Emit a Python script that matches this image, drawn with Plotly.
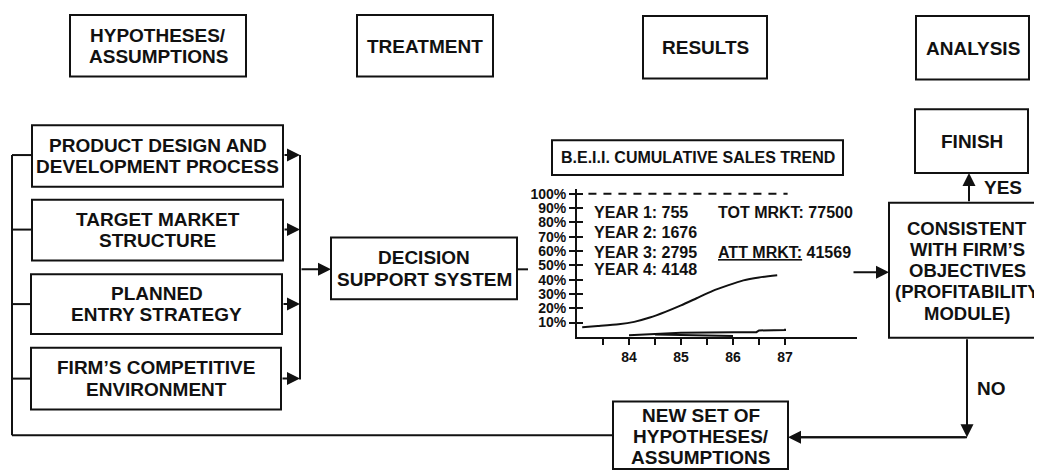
import plotly.graph_objects as go

# The page body has an 8px margin: the figure is sized so it fills the
# 1042x472 window exactly, and its axes are expressed in window pixels.
PAGE_W, PAGE_H = 1042, 472
OFF = 8
W, H = PAGE_W - OFF, PAGE_H - OFF
INK = "#111111"
FONT = "Liberation Sans, Arial, sans-serif"

# ---------------- data for the embedded sales-trend chart ----------------
curve_years = [83.1, 83.4, 83.8, 84.1, 84.4, 84.7, 85.0, 85.3, 85.6, 85.9, 86.2, 86.5, 86.85]
curve_share = [6.8, 7.6, 8.8, 10.5, 13.5, 17.5, 22.0, 27.0, 32.0, 36.0, 39.5, 41.5, 43.0]

sales_years = [84.0, 84.5, 85.0, 86.0, 86.45, 86.5, 87.0, 87.0]
sales_share = [1.2, 1.8, 2.8, 3.2, 3.3, 4.5, 4.8, 5.6]

sales2_years = [84.5, 85.0, 85.5, 86.0]
sales2_share = [1.6, 1.2, 0.9, 0.7]

target_years = [83.22, 87.05]
target_share = [100, 100]

y_tick_vals = [10, 20, 30, 40, 50, 60, 70, 80, 90, 100]
y_tick_text = ["10%", "20%", "30%", "40%", "50%", "60%", "70%", "80%", "90%", "100%"]
x_tick_vals = [83.5, 84, 84.5, 85, 85.5, 86, 86.5, 87]
x_tick_text = ["", "84", "", "85", "", "86", "", "87"]

year_labels = ["YEAR 1: 755", "YEAR 2: 1676", "YEAR 3: 2795", "YEAR 4: 4148"]
year_label_levels = [86.8, 72.9, 59.0, 47.2]
market_labels = ["TOT MRKT: 77500", "<u>ATT MRKT:</u> 41569"]
market_label_levels = [86.8, 59.0]

chart_title = "B.E.I.I. CUMULATIVE SALES TREND"

header_texts = [["HYPOTHESES/", "ASSUMPTIONS"], ["TREATMENT"], ["RESULTS"], ["ANALYSIS"]]
input_texts = [["PRODUCT DESIGN AND", "DEVELOPMENT PROCESS"],
               ["TARGET MARKET", "STRUCTURE"],
               ["PLANNED", "ENTRY STRATEGY"],
               ["FIRM\u2019S COMPETITIVE", "ENVIRONMENT"]]
dss_text = ["DECISION", "SUPPORT SYSTEM"]
finish_text = ["FINISH"]
check_text = ["CONSISTENT", "WITH FIRM\u2019S", "OBJECTIVES", "(PROFITABILITY", "MODULE)"]
newset_text = ["NEW SET OF", "HYPOTHESES/", "ASSUMPTIONS"]

# ---------------- drawing helpers (window pixel coordinates) ----------------
shapes = []
annotations = []


def line(x0, y0, x1, y1, w=2):
    shapes.append(dict(type="line", xref="x", yref="y", x0=x0, y0=y0, x1=x1, y1=y1,
                       line=dict(color=INK, width=w)))


def rect(x0, y0, x1, y1):
    shapes.append(dict(type="rect", xref="x", yref="y", x0=x0, y0=y0, x1=x1, y1=y1,
                       line=dict(color=INK, width=2), fillcolor="rgba(0,0,0,0)"))


def arrow(tx, ty, hx, hy):
    annotations.append(dict(x=hx, y=hy, ax=tx, ay=ty, xref="x", yref="y", axref="x", ayref="y",
                            text="", showarrow=True, arrowhead=2, arrowsize=1.3,
                            arrowwidth=2, arrowcolor=INK, standoff=0, startstandoff=0))


def label(x, y, text, size=19, xanchor="center", xref="x", yref="y"):
    annotations.append(dict(x=x, y=y, xref=xref, yref=yref, text=text, showarrow=False,
                            xanchor=xanchor, yanchor="middle",
                            font=dict(family=FONT, size=size, color=INK, weight="bold")))


def box(x0, y0, x1, y1, lines, spacing=21.5, size=19, cy=None, cx=None):
    rect(x0, y0, x1, y1)
    if cx is None:
        cx = (x0 + x1) / 2
    if cy is None:
        cy = (y0 + y1) / 2
    n = len(lines)
    for i, t in enumerate(lines):
        label(cx, cy + (i - (n - 1) / 2) * spacing, t, size=size)


# ---------------- header boxes ----------------
box(70, 12, 246, 74, header_texts[0], spacing=21.5, cy=43.5)
box(357, 12, 493, 74, header_texts[1], cy=43.5)
box(643, 13, 767, 76, header_texts[2], cy=45)
box(916, 13, 1029, 77, header_texts[3], cy=46)

# ---------------- input boxes ----------------
input_rects = [(32, 123, 283, 185), (32, 198, 283, 259), (31, 273, 282, 333), (31, 347, 281, 409)]
input_ys = [153, 228, 303, 378]
for (x0, y0, x1, y1), t in zip(input_rects, input_texts):
    box(x0, y0, x1, y1, t)

# left feedback bus
line(12, 153, 12, 435)
for (x0, y0, x1, y1), yy in zip(input_rects, input_ys):
    line(12, yy, x0, yy)
line(12, 435, 613, 435)

# right collector bus
line(300, 153, 300, 379)
for (x0, y0, x1, y1), yy in zip(input_rects, input_ys):
    arrow(x1, yy, 300, yy)
arrow(300, 268, 331, 268)

# decision support system
box(331, 236, 517, 298, dss_text)
line(517, 268, 528, 268)

# chart title box
box(552, 138, 843, 173, [chart_title], size=16)

# right side: consistency check, finish, new set
arrow(852, 271, 889, 271)
box(889, 201, 1052, 337, check_text, spacing=21.3, size=18.5, cy=269.5, cx=967)
box(915, 107, 1028, 171, finish_text)
arrow(969, 201, 969, 171)
label(982, 186, "YES", xanchor="left")
arrow(967, 337, 967, 437)
label(975, 388, "NO", xanchor="left")
line(967, 437, 795, 437)
arrow(967, 437, 788, 437)
box(613, 401, 788, 469, newset_text, spacing=21, cy=436)

# ---------------- embedded chart labels ----------------
for t, lv in zip(year_labels, year_label_levels):
    label(83.29, lv, t, size=16, xanchor="left", xref="x2", yref="y2")
for t, lv in zip(market_labels, market_label_levels):
    label(85.67, lv, t, size=16, xanchor="left", xref="x2", yref="y2")

# ---------------- figure ----------------
fig = go.Figure()
fig.add_trace(go.Scatter(x=[], y=[], xaxis="x", yaxis="y", hoverinfo="skip", showlegend=False))
fig.add_trace(go.Scatter(x=curve_years, y=curve_share, mode="lines", xaxis="x2", yaxis="y2",
                         line=dict(color=INK, width=2, shape="spline", smoothing=0.6),
                         showlegend=False, hoverinfo="skip"))
fig.add_trace(go.Scatter(x=sales_years, y=sales_share, mode="lines", xaxis="x2", yaxis="y2",
                         line=dict(color=INK, width=2), showlegend=False, hoverinfo="skip"))
fig.add_trace(go.Scatter(x=sales2_years, y=sales2_share, mode="lines", xaxis="x2", yaxis="y2",
                         line=dict(color=INK, width=2), showlegend=False, hoverinfo="skip"))
fig.add_trace(go.Scatter(x=target_years, y=target_share, mode="lines", xaxis="x2", yaxis="y3",
                         line=dict(color=INK, width=2, dash="8px,7px"),
                         showlegend=False, hoverinfo="skip"))

x0_px, x1_px = 577, 857
ybot_px, ytop_px = 336, 187
px_per_year = 52.0
px_per_pct = 1.44
xr = [83, 83 + (x1_px - x0_px) / px_per_year]
yr = [0, (ybot_px - ytop_px) / px_per_pct]
tickfont = dict(family=FONT, size=14, color=INK, weight="bold")


def fx(p):
    return (p - OFF) / W


def fy(p):
    return 1 - (p - OFF) / H


fig.update_layout(
    width=W, height=H, margin=dict(l=0, r=0, t=0, b=0),
    paper_bgcolor="white", plot_bgcolor="rgba(0,0,0,0)",
    xaxis=dict(range=[OFF, PAGE_W], domain=[0, 1], visible=False, fixedrange=True),
    yaxis=dict(range=[PAGE_H, OFF], domain=[0, 1], visible=False, fixedrange=True),
    xaxis2=dict(domain=[fx(x0_px), fx(x1_px)], range=xr, anchor="y2",
                showline=True, linecolor=INK, linewidth=2, showgrid=False, zeroline=False,
                ticks="outside", ticklen=6, tickwidth=2, tickcolor=INK,
                tickvals=x_tick_vals, ticktext=x_tick_text, tickfont=tickfont),
    yaxis2=dict(domain=[fy(ybot_px), fy(ytop_px)], range=yr, anchor="x2",
                showline=True, linecolor=INK, linewidth=2, showgrid=False, zeroline=False,
                ticks="outside", ticklen=6, tickwidth=2, tickcolor=INK,
                tickvals=y_tick_vals, ticktext=y_tick_text, tickfont=tickfont),
    yaxis3=dict(overlaying="y2", anchor="x2", range=yr, showline=False, showgrid=False,
                zeroline=False, ticks="inside", ticklen=6, tickwidth=2, tickcolor=INK,
                tickvals=y_tick_vals, showticklabels=False),
    shapes=shapes, annotations=annotations, showlegend=False,
)

fig.write_html("out.html")
